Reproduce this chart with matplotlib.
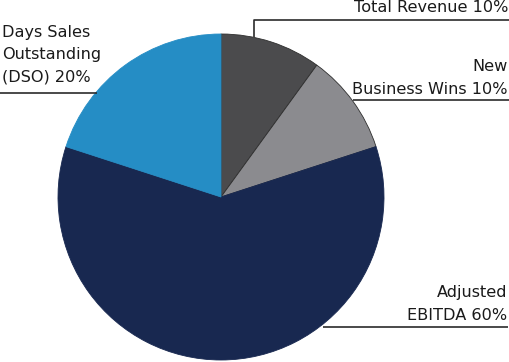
import matplotlib.pyplot as plt

labels = ['Total Revenue 10%', 'New\nBusiness Wins 10%', 'Adjusted\nEBITDA 60%',
          'Days Sales\nOutstanding\n(DSO) 20%']
values = [10, 10, 60, 20]
colors = ['#4b4b4d', '#8b8b8f', '#182850', '#258dc5']
edges = ['#2e2e2e', '#2e2e2e', '#182850', '#258dc5']

fig = plt.figure(figsize=(5.1, 3.62), dpi=100)
ax = fig.add_axes([0, 0, 1, 1])

# pie in pixel coords (y measured from bottom)
cx, cy, r = 221, 165, 163
wedges, _ = ax.pie(values, colors=colors, startangle=90, counterclock=False,
                   center=(cx, cy), radius=r, frame=True)
for w, e in zip(wedges, edges):
    w.set_edgecolor(e)
    w.set_linewidth(0.6)
ax.set_xlim(0, 510)
ax.set_ylim(0, 362)
ax.set_aspect('equal')
ax.axis('off')

line_kw = dict(color='#2b2b2b', lw=1.2, solid_capstyle='butt')
txt_kw = dict(fontsize=11.6, color='#1a1a1a', family='DejaVu Sans', linespacing=1.6)

# Total Revenue
ax.plot([254, 254, 510], [362 - 37, 362 - 20, 362 - 20], **line_kw)
ax.text(508, 362 - 8, labels[0], ha='right', va='center', **txt_kw)
# New Business Wins
ax.plot([353, 510], [362 - 100, 362 - 100], **line_kw)
ax.text(508, 362 - 78, labels[1], ha='right', va='center', **txt_kw)
# Adjusted EBITDA
ax.plot([323, 508], [362 - 327, 362 - 327], **line_kw)
ax.text(507, 362 - 304, labels[2], ha='right', va='center', **txt_kw)
# DSO
ax.plot([0, 97], [362 - 93, 362 - 93], **line_kw)
ax.text(2, 362 - 55, labels[3], ha='left', va='center', **txt_kw)

fig.savefig('out.png', dpi=100)
